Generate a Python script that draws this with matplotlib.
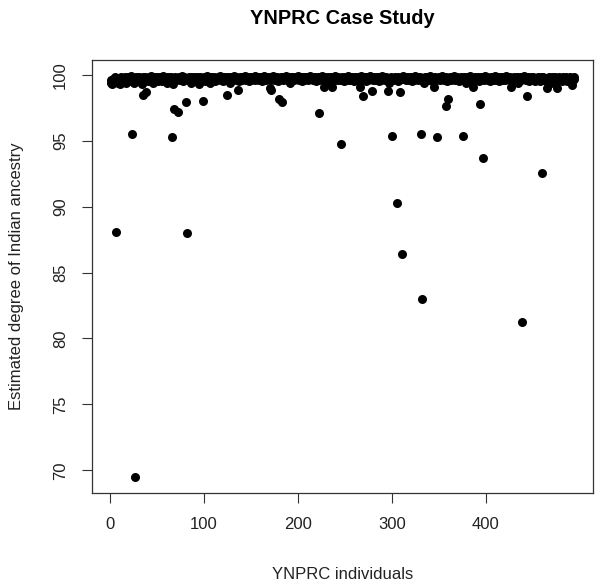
import matplotlib
matplotlib.use("Agg")
import matplotlib.pyplot as plt
import numpy as np

# Individuals that fall clearly below the dense band: (index, estimated ancestry %)
outlier_idx = [7, 24, 27, 35, 39, 66, 68, 73, 81, 82, 99, 125, 136, 170, 171,
               180, 183, 222, 228, 236, 246, 266, 269, 279, 296, 300, 305, 309,
               311, 331, 332, 345, 348, 357, 360, 376, 386, 394, 397, 427, 438,
               444, 459, 465, 475, 491]
outlier_val = [88.1, 95.5, 69.5, 98.5, 98.7, 95.25, 97.4, 97.2, 97.9, 88.0, 98.0,
               98.5, 98.85, 99.0, 98.85, 98.15, 97.95, 97.1, 99.05, 99.05, 94.75,
               99.1, 98.35, 98.8, 98.75, 95.35, 90.25, 98.7, 86.4, 95.5, 83.0,
               99.1, 95.25, 97.6, 98.15, 95.35, 99.1, 97.8, 93.7, 99.1, 81.25,
               98.4, 92.55, 99.0, 99.0, 99.2]

# Remaining individuals (dense band near 100 %), in order of index
band_val = [
    99.4, 99.6, 99.3, 99.7, 99.5, 99.8, 99.6, 99.4, 99.7, 99.3, 99.8, 99.6, 99.5, 99.7, 99.8, 99.4,
    99.7, 99.6, 99.8, 99.5, 99.7, 99.9, 99.6, 99.4, 99.8, 99.7, 99.6, 99.8, 99.5, 99.7, 99.3, 99.8,
    99.6, 99.8, 99.7, 99.5, 99.8, 99.6, 99.9, 99.7, 99.4, 99.8, 99.6, 99.7, 99.8, 99.5, 99.7, 99.6,
    99.8, 99.7, 99.5, 99.9, 99.6, 99.8, 99.7, 99.4, 99.8, 99.6, 99.7, 99.8, 99.3, 99.7, 99.8, 99.6,
    99.7, 99.8, 99.6, 99.7, 99.9, 99.5, 99.8, 99.7, 99.6, 99.8, 99.7, 99.4, 99.8, 99.6, 99.7, 99.8,
    99.5, 99.7, 99.8, 99.6, 99.3, 99.8, 99.7, 99.6, 99.8, 99.5, 99.7, 99.9, 99.6, 99.8, 99.7, 99.4,
    99.8, 99.6, 99.7, 99.8, 99.5, 99.7, 99.6, 99.8, 99.7, 99.9, 99.6, 99.7, 99.8, 99.5, 99.7, 99.8,
    99.6, 99.8, 99.7, 99.4, 99.8, 99.7, 99.6, 99.9, 99.7, 99.8, 99.6, 99.7, 99.5, 99.8, 99.7, 99.6,
    99.8, 99.7, 99.9, 99.6, 99.8, 99.7, 99.5, 99.8, 99.6, 99.7, 99.8, 99.7, 99.6, 99.9, 99.7, 99.8,
    99.7, 99.6, 99.8, 99.7, 99.5, 99.8, 99.9, 99.7, 99.6, 99.8, 99.7, 99.8, 99.6, 99.7, 99.9, 99.8,
    99.6, 99.7, 99.8, 99.5, 99.7, 99.8, 99.6, 99.8, 99.7, 99.9, 99.7, 99.6, 99.8, 99.7, 99.4, 99.8,
    99.7, 99.8, 99.6, 99.7, 99.8, 99.7, 99.9, 99.6, 99.8, 99.7, 99.5, 99.8, 99.7, 99.6, 99.8, 99.7,
    99.8, 99.6, 99.7, 99.9, 99.7, 99.8, 99.6, 99.7, 99.8, 99.5, 99.7, 99.8, 99.6, 99.8, 99.7, 99.9,
    99.7, 99.8, 99.6, 99.7, 99.8, 99.4, 99.7, 99.8, 99.6, 99.7, 99.9, 99.8, 99.7, 99.6, 99.8, 99.7,
    99.6, 99.8, 99.7, 99.5, 99.8, 99.7, 99.6, 99.9, 99.7, 99.8, 99.6, 99.7, 99.8, 99.7, 99.5, 99.8,
    99.7, 99.6, 99.8, 99.7, 99.9, 99.6, 99.8, 99.7, 99.5, 99.8, 99.7, 99.6, 99.8, 99.9, 99.7, 99.6,
    99.8, 99.7, 99.6, 99.8, 99.7, 99.5, 99.8, 99.6, 99.7, 99.9, 99.8, 99.7, 99.6, 99.8, 99.7, 99.4,
    99.7, 99.8, 99.6, 99.7, 99.8, 99.7, 99.5, 99.8, 99.6, 99.7, 99.9, 99.7, 99.8, 99.6, 99.7, 99.8,
    99.6, 99.7, 99.8, 99.5, 99.7, 99.8, 99.6, 99.9, 99.7, 99.8, 99.6, 99.7, 99.8, 99.7, 99.4, 99.8,
    99.7, 99.8, 99.6, 99.7, 99.9, 99.7, 99.8, 99.5, 99.7, 99.8, 99.6, 99.7, 99.8, 99.6, 99.7, 99.9,
    99.8, 99.6, 99.7, 99.8, 99.5, 99.7, 99.8, 99.6, 99.8, 99.7, 99.9, 99.6, 99.7, 99.8, 99.7, 99.5,
    99.7, 99.8, 99.6, 99.7, 99.8, 99.7, 99.4, 99.8, 99.6, 99.7, 99.9, 99.8, 99.7, 99.6, 99.8, 99.7,
    99.6, 99.8, 99.7, 99.5, 99.8, 99.7, 99.6, 99.9, 99.7, 99.8, 99.6, 99.7, 99.5, 99.8, 99.7, 99.6,
    99.8, 99.7, 99.9, 99.6, 99.7, 99.8, 99.5, 99.7, 99.8, 99.6, 99.7, 99.8, 99.6, 99.9, 99.7, 99.8,
    99.7, 99.6, 99.8, 99.7, 99.5, 99.8, 99.7, 99.6, 99.8, 99.4, 99.7, 99.8, 99.6, 99.7, 99.9, 99.8,
    99.6, 99.7, 99.8, 99.5, 99.7, 99.8, 99.6, 99.8, 99.7, 99.5, 99.7, 99.6, 99.8, 99.7, 99.5, 99.8,
    99.7, 99.8, 99.6, 99.7, 99.5, 99.6, 99.8, 99.7, 99.4, 99.8, 99.6, 99.7, 99.8, 99.5, 99.7, 99.6,
    99.8, 99.6, 99.7, 99.5, 99.8, 99.6, 99.7, 99.8, 99.5, 99.7, 99.6, 99.8, 99.7, 99.6, 99.8, 99.7,
]

x_ticks = [0, 100, 200, 300, 400]
y_ticks = [70, 75, 80, 85, 90, 95, 100]

N = len(band_val) + len(outlier_idx)
outlier_set = set(outlier_idx)
band_idx = [i for i in range(1, N + 1) if i not in outlier_set]

xs = np.array(band_idx + outlier_idx)
ys = np.array(band_val + outlier_val)
order = np.argsort(xs)
xs, ys = xs[order], ys[order]

plt.rcParams['font.family'] = ['Liberation Sans', 'DejaVu Sans']

fig = plt.figure(figsize=(6.02, 5.87), dpi=100)
ax = fig.add_axes([92 / 602, 1 - 493 / 587, (593 - 92) / 602, (493 - 60) / 587])

ax.plot(xs, ys, 'o', color='black', markersize=6.5, markeredgewidth=0)

# R-style 4% padding around data range
xr = xs.max() - xs.min()
yr = ys.max() - ys.min()
ax.set_xlim(xs.min() - 0.04 * xr, xs.max() + 0.04 * xr)
ax.set_ylim(ys.min() - 0.04 * yr, ys.max() + 0.04 * yr)

ax.set_xticks(x_ticks)
ax.set_yticks(y_ticks)
ax.set_xticklabels([str(t) for t in x_ticks], fontsize=12, color='#222222')
ax.set_yticklabels([str(t) for t in y_ticks], fontsize=12, color='#222222',
                   rotation=90, va='center')
ax.tick_params(axis='both', direction='out', length=7.2, width=0.8,
               color='#333333', pad=10)
for s in ax.spines.values():
    s.set_linewidth(0.9)
    s.set_color('#333333')

ax.set_xlabel('YNPRC individuals', fontsize=12, color='#222222', labelpad=25)
ax.set_ylabel('Estimated degree of Indian ancestry', fontsize=12,
              color='#222222', labelpad=21)
fig.text(0.5 * (92 + 593) / 602, 1 - 18 / 587, 'YNPRC Case Study',
         fontsize=14.4, fontweight='bold', ha='center', va='center')

fig.savefig('out.png', dpi=100)
